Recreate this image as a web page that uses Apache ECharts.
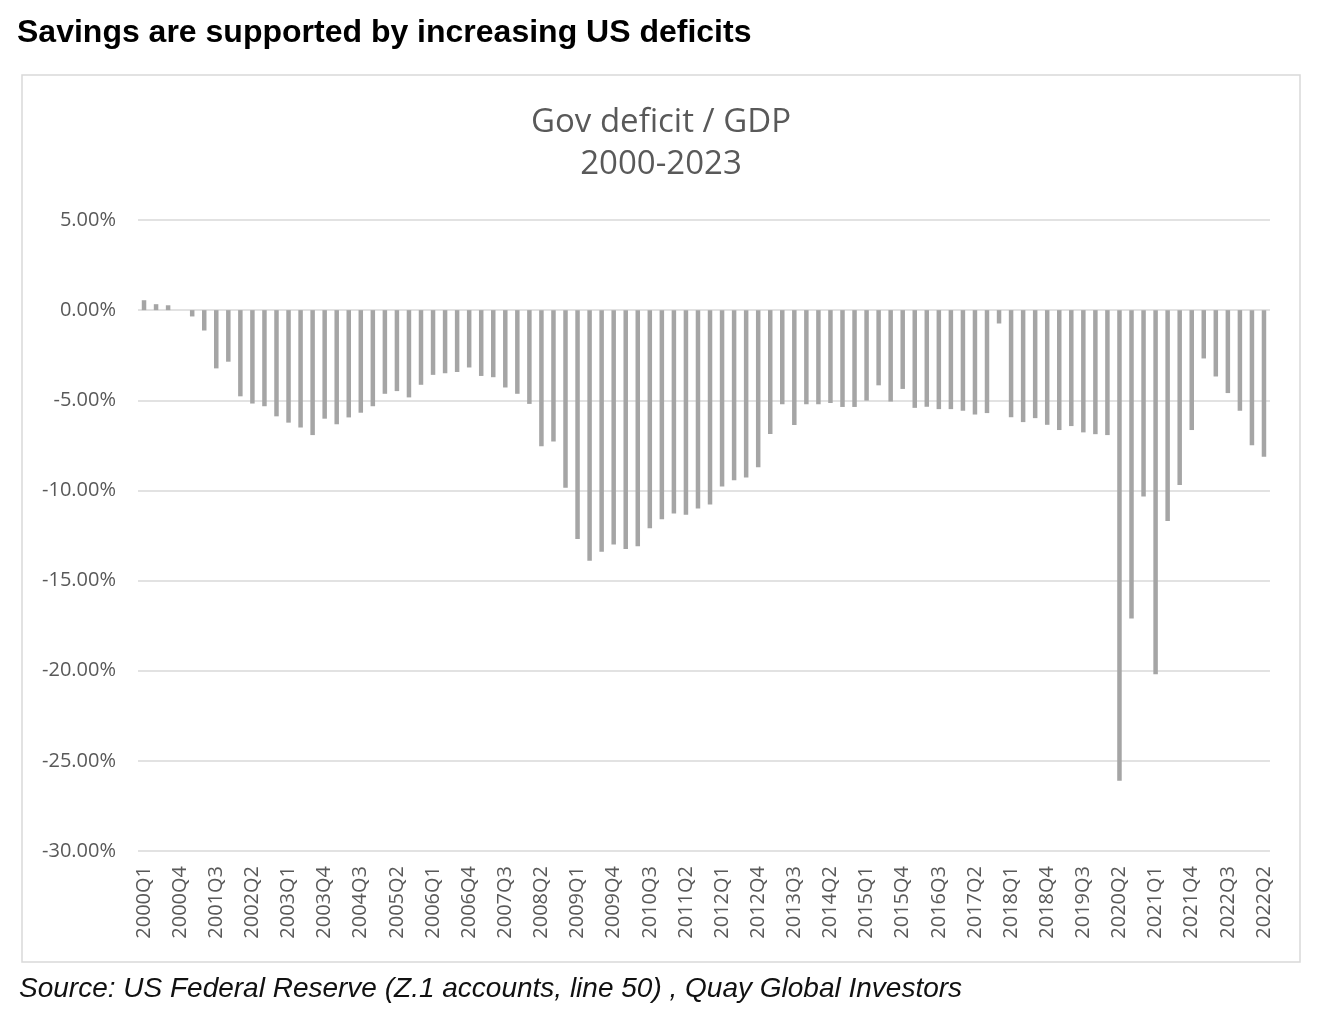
<!DOCTYPE html>
<html>
<head>
<meta charset="utf-8">
<title>Gov deficit / GDP</title>
<script src="https://cdn.jsdelivr.net/npm/echarts@6/dist/echarts.min.js"></script>
<style>
    html, body { margin: 0; padding: 0; background: #fff; }
    #chart { width: 1328px; height: 1014px; }
</style>
</head>
<body>
<div id="chart"></div>
<script>
// quarters as labelled in the source chart (last label kept as printed)
var quarters = [
    '2000Q1', '2000Q2', '2000Q3', '2000Q4', '2001Q1', '2001Q2', '2001Q3', '2001Q4',
    '2002Q1', '2002Q2', '2002Q3', '2002Q4', '2003Q1', '2003Q2', '2003Q3', '2003Q4',
    '2004Q1', '2004Q2', '2004Q3', '2004Q4', '2005Q1', '2005Q2', '2005Q3', '2005Q4',
    '2006Q1', '2006Q2', '2006Q3', '2006Q4', '2007Q1', '2007Q2', '2007Q3', '2007Q4',
    '2008Q1', '2008Q2', '2008Q3', '2008Q4', '2009Q1', '2009Q2', '2009Q3', '2009Q4',
    '2010Q1', '2010Q2', '2010Q3', '2010Q4', '2011Q1', '2011Q2', '2011Q3', '2011Q4',
    '2012Q1', '2012Q2', '2012Q3', '2012Q4', '2013Q1', '2013Q2', '2013Q3', '2013Q4',
    '2014Q1', '2014Q2', '2014Q3', '2014Q4', '2015Q1', '2015Q2', '2015Q3', '2015Q4',
    '2016Q1', '2016Q2', '2016Q3', '2016Q4', '2017Q1', '2017Q2', '2017Q3', '2017Q4',
    '2018Q1', '2018Q2', '2018Q3', '2018Q4', '2019Q1', '2019Q2', '2019Q3', '2019Q4',
    '2020Q1', '2020Q2', '2020Q3', '2020Q4', '2021Q1', '2021Q2', '2021Q3', '2021Q4',
    '2022Q1', '2022Q2', '2022Q3', '2022Q4', '2023Q1', '2022Q2'
];

// gov deficit as % of GDP
var deficitPct = [
    0.55, 0.33, 0.27, 0.00, -0.35, -1.13, -3.23, -2.86,
    -4.78, -5.18, -5.33, -5.89, -6.24, -6.51, -6.93, -6.02,
    -6.33, -5.95, -5.69, -5.33, -4.64, -4.49, -4.84, -4.14,
    -3.59, -3.50, -3.43, -3.18, -3.65, -3.72, -4.29, -4.64,
    -5.20, -7.55, -7.29, -9.85, -12.70, -13.90, -13.40, -13.00,
    -13.25, -13.10, -12.10, -11.60, -11.28, -11.35, -11.00, -10.78,
    -9.78, -9.44, -9.28, -8.72, -6.87, -5.22, -6.37, -5.22,
    -5.22, -5.15, -5.37, -5.37, -5.02, -4.17, -5.07, -4.37,
    -5.42, -5.36, -5.49, -5.49, -5.58, -5.79, -5.71, -0.74,
    -5.94, -6.21, -5.99, -6.36, -6.65, -6.43, -6.78, -6.88,
    -6.93, -26.10, -17.10, -10.33, -20.20, -11.70, -9.70, -6.65,
    -2.68, -3.68, -4.60, -5.58, -7.49, -8.13
];

var yTicks = { min: -30, max: 5, step: 5 };

var chart = echarts.init(document.getElementById('chart'));

var option = {
    backgroundColor: '#fff',
    animation: false,
    title: [{
        text: 'Savings are supported by increasing US deficits',
        left: 12,
        top: 12,
        textStyle: {
            fontFamily: 'Liberation Sans',
            fontSize: 32,
            fontWeight: 'bold',
            color: '#000',
            lineHeight: 32
        }
    }, {
        text: 'Gov deficit / GDP\n2000-2023',
        left: 656,
        top: 97,
        textAlign: 'center',
        textStyle: {
            fontFamily: 'Open Sans',
            fontSize: 33,
            fontWeight: 'normal',
            color: '#595959',
            lineHeight: 42
        }
    }, {
        text: 'Source: US Federal Reserve (Z.1 accounts, line 50) , Quay Global Investors',
        left: 14,
        top: 970,
        textStyle: {
            fontFamily: 'Liberation Sans',
            fontSize: 28,
            fontStyle: 'italic',
            fontWeight: 'normal',
            color: '#111',
            lineHeight: 28
        }
    }],
    graphic: [{
        type: 'rect',
        shape: { x: 22, y: 75, width: 1278, height: 887 },
        style: { fill: 'none', stroke: '#d9d9d9', lineWidth: 1.5 },
        silent: true
    }],
    grid: {
        left: 138,
        right: 58,
        top: 220,
        bottom: 163
    },
    xAxis: {
        type: 'category',
        data: quarters,
        axisLine: { show: false },
        axisTick: { show: false },
        axisLabel: {
            interval: 2,
            rotate: 90,
            margin: 15,
            fontFamily: 'Open Sans',
            fontSize: 20,
            color: '#595959'
        }
    },
    yAxis: {
        type: 'value',
        min: yTicks.min,
        max: yTicks.max,
        interval: yTicks.step,
        axisLine: { show: false },
        axisTick: { show: false },
        axisLabel: {
            margin: 22,
            fontFamily: 'Open Sans',
            fontSize: 20,
            color: '#595959',
            formatter: function (v) { return v.toFixed(2) + '%'; }
        },
        splitLine: { lineStyle: { color: '#d9d9d9', width: 1.5 } }
    },
    series: [{
        name: 'Gov deficit / GDP',
        type: 'bar',
        data: deficitPct,
        barWidth: 4.5,
        itemStyle: { color: '#a5a5a5' }
    }]
};

chart.setOption(option);
</script>
</body>
</html>
